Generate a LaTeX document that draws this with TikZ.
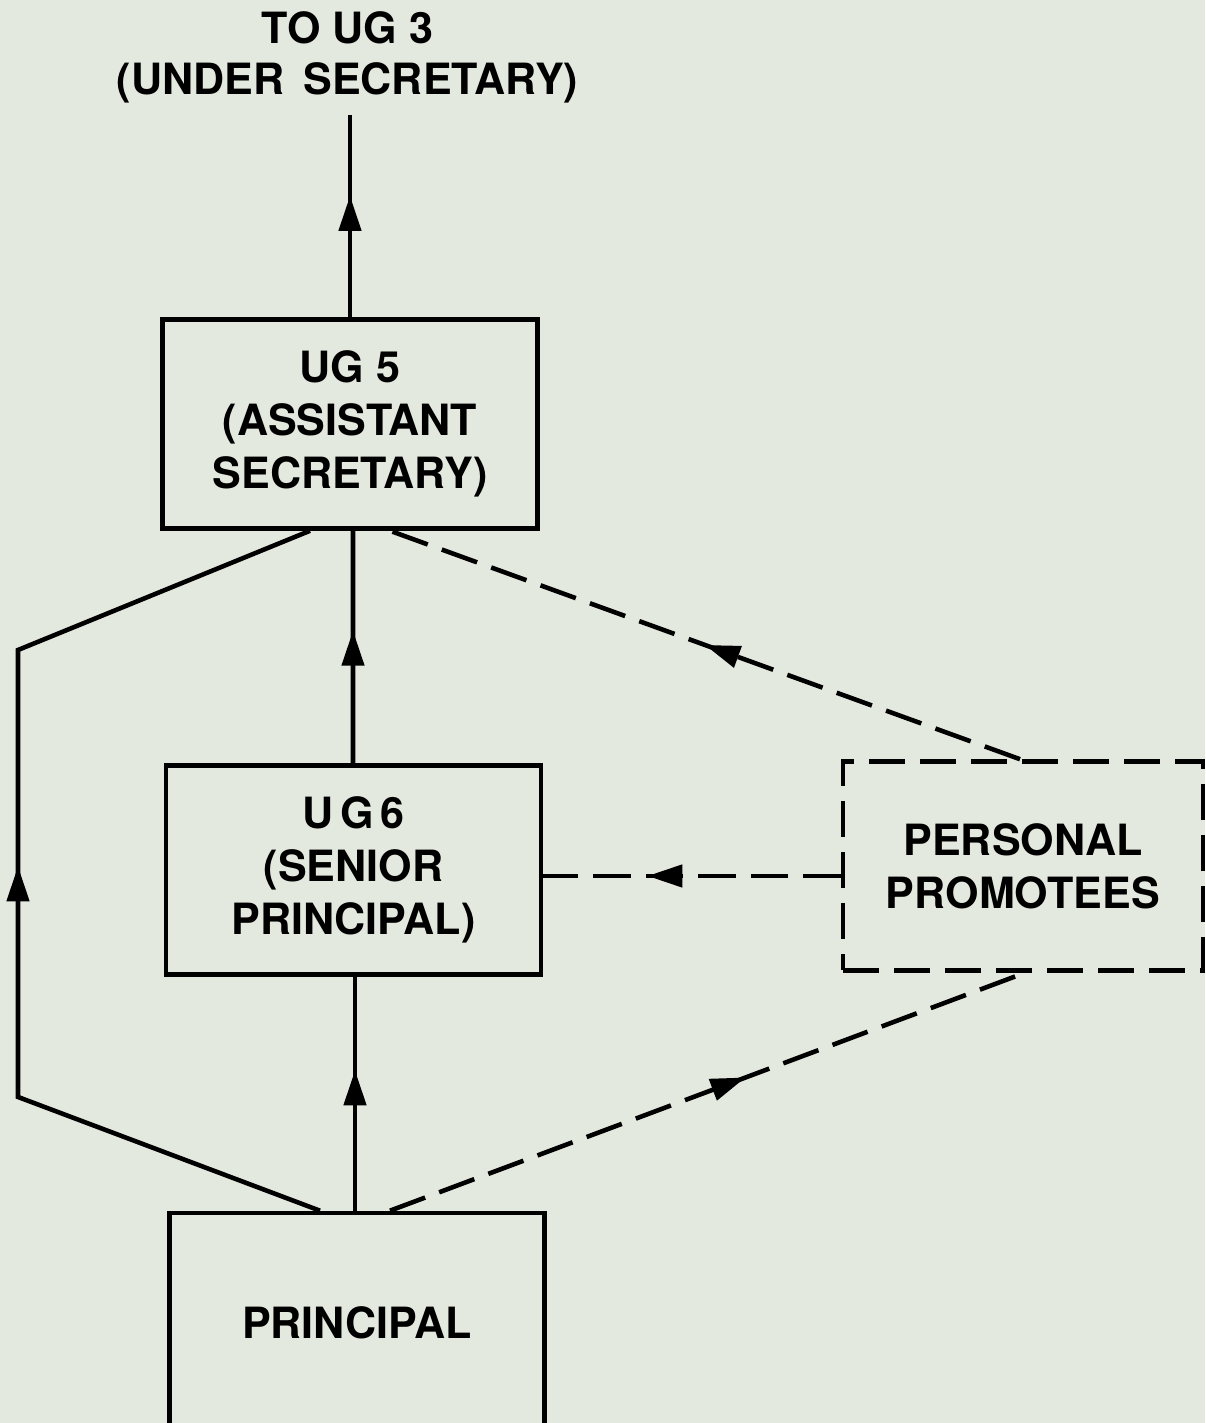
\documentclass[tikz,border=0pt]{standalone}
\usepackage{fontspec}
\setmainfont{TeX Gyre Heros}
\usetikzlibrary{arrows.meta}
\usetikzlibrary{calc}
\usetikzlibrary{decorations.markings}
\definecolor{paper}{RGB}{228,233,223}

\begin{document}
\begin{tikzpicture}[line width=2.6pt,
			grade/.style={draw,minimum width=7.5cm,minimum height=4.18cm,align=center,
				font=\fontsize{24.5}{30}\selectfont\bfseries},
			promo/.style={grade,dash pattern=on 0.72cm off 0.3cm},
			promoline/.style={dash pattern=on 0.75cm off 0.3cm},
			midarrow/.style={postaction={decorate,decoration={markings,
				mark=at position #1 with {\arrow{Triangle[length=0.7cm,width=0.44cm]}}}}}]
		 \fill[paper] (0,0) rectangle (24.1,28.46);
		 \clip (0,0) rectangle (24.1,28.46);
		 % grades
		 \node[grade] (ug5) at (7.0,19.98) {UG 5\\(ASSISTANT\\SECRETARY)};
		 \node[grade] (ug6) at (7.07,11.06) {U\,G\,6\\(SENIOR\\PRINCIPAL)};
		 \node[grade,minimum height=4.4cm] (princ) at (7.14,2.0) {PRINCIPAL};
		 \node[promo,minimum width=7.2cm] (pp) at (20.46,11.14) {PERSONAL\\PROMOTEES};
		 \node[align=center,font=\fontsize{24.5}{29}\selectfont\bfseries] (ug3) at (6.95,27.32)
			{TO UG 3\\(UNDER\, SECRETARY)};
		 \coordinate (ug3end) at (7.0,26.16);
		 \coordinate (left1) at (0.36,6.52);
		 \coordinate (left2) at (0.36,15.46);
		 % promotion lines
		 \draw[midarrow=0.6] (ug5.north) -- (ug3end);
		 \draw[midarrow=0.57] ($(ug6.north)+(-0.01,0)$) -- ($(ug5.south)+(0.06,0)$);
		 \draw[midarrow=0.6] ($(princ.north)+(-0.04,0)$) -- ($(ug6.south)+(0.03,0)$);
		 \draw[midarrow=0.51] ($(princ.north)+(-0.74,0)$) -- (left1) -- (left2)
			-- ($(ug5.south)+(-0.8,0)$);
		 % personal promotees
		 \draw[promoline,midarrow=0.5] ($(pp.north)+(-0.06,0)$) -- ($(ug5.south)+(0.8,0)$);
		 \draw[promoline,midarrow=0.65] ($(pp.west)+(0,-0.2)$) -- (ug6.east |- {$(pp.west)+(0,-0.2)$});
		 \draw[promoline,midarrow=0.56] ($(princ.north)+(0.66,0)$) -- ($(pp.south)+(0.04,0)$);
\end{tikzpicture}
\end{document}
